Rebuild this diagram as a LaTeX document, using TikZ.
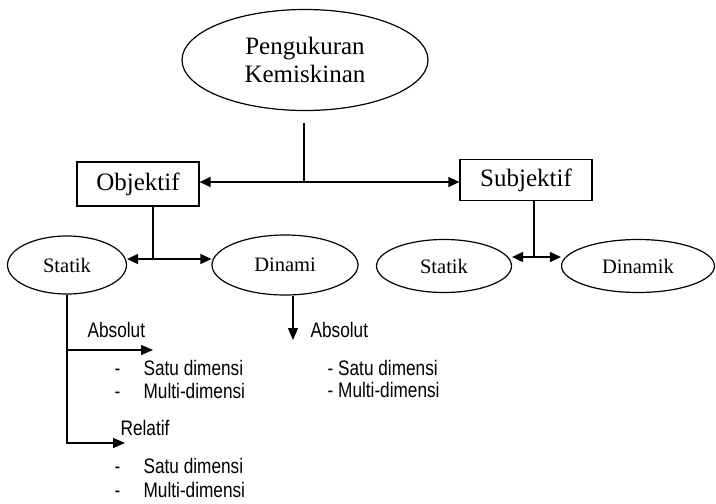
\documentclass[tikz,border=0pt]{standalone}
\usepackage{fontspec}
\setmainfont{Liberation Serif}
\newfontfamily\narrowsans[FakeStretch=0.82]{Liberation Sans}
\usetikzlibrary{arrows.meta,shapes.geometric,calc}
\begin{document}
\begin{tikzpicture}[x=1pt,y=-1pt,
  line width=1.3pt,
  tip/.style={-{Triangle[length=12pt,width=10pt]}},
  dtip/.style={{Triangle[length=11pt,width=10pt]}-{Triangle[length=11pt,width=10pt]},line width=1.7pt},
  oval/.style={draw,ellipse,inner sep=0pt,line width=1.2pt},
  box/.style={draw,rectangle,inner sep=0pt,line width=1.2pt},
  big/.style={font=\fontsize{25}{28}\selectfont},
  mid/.style={font=\fontsize{20.5}{24}\selectfont},
  lbl/.style={font=\narrowsans\fontsize{21}{24}\selectfont, anchor=base west, inner sep=0pt},
]
\useasboundingbox (0,0) rectangle (716,504);
\node[oval,big,align=center,minimum width=246pt,minimum height=101pt] (top) at (305,60) {Pengukuran\\Kemiskinan};
\node[box,big,minimum width=122pt,minimum height=44pt] (obj) at (138,184) {Objektif};
\node[box,big,minimum width=132pt,minimum height=41pt] (subj) at (526,180) {Subjektif};
\node[oval,mid,minimum width=119pt,minimum height=58pt] (sl) at (67,265) {Statik};
\node[oval,mid,minimum width=146pt,minimum height=60pt] (dl) at (285,265) {Dinami};
\node[oval,mid,minimum width=135pt,minimum height=53pt] (sr) at (444,266) {Statik};
\node[oval,mid,minimum width=153pt,minimum height=53pt] (dr) at (638,266) {Dinamik};

\coordinate (j0) at (304,123);
\coordinate (j1) at (304,182);
\draw (j0) -- (j1);
\draw[dtip] (obj.east |- j1) -- (subj.west |- j1);

\coordinate (j2) at (153,259);
\draw (obj.south -| j2) -- (j2);
\draw[dtip] (sl.east |- j2) -- (dl.west |- j2);

\coordinate (j3) at (534,257);
\draw (subj.south -| j3) -- (j3);
\draw[dtip] (sr.east |- j3) -- (dr.west |- j3);

\coordinate (a1) at (67,350);
\coordinate (a2) at (153,350);
\coordinate (r2) at (125,443);
\draw[tip] (sl.south) |- (r2);
\draw[tip] (a1) -- (a2);

\coordinate (d1) at (293,340);
\draw[tip] (dl.south -| d1) -- (d1);

\node[lbl] (abs1) at (87,337) {Absolut};
\node[lbl] (s1) at (114,375) {\makebox[29pt][l]{-}Satu dimensi};
\node[lbl] (m1) at (114,398) {\makebox[29pt][l]{-}Multi-dimensi};
\node[lbl] (rel) at (120,435) {Relatif};
\node[lbl] (s2) at (114,473) {\makebox[29pt][l]{-}Satu dimensi};
\node[lbl] (m2) at (114,497) {\makebox[29pt][l]{-}Multi-dimensi};
\node[lbl] (abs2) at (310,337) {Absolut};
\node[lbl] (s3) at (327,375) {- Satu dimensi};
\node[lbl] (m3) at (327,397) {- Multi-dimensi};
\end{tikzpicture}
\end{document}
